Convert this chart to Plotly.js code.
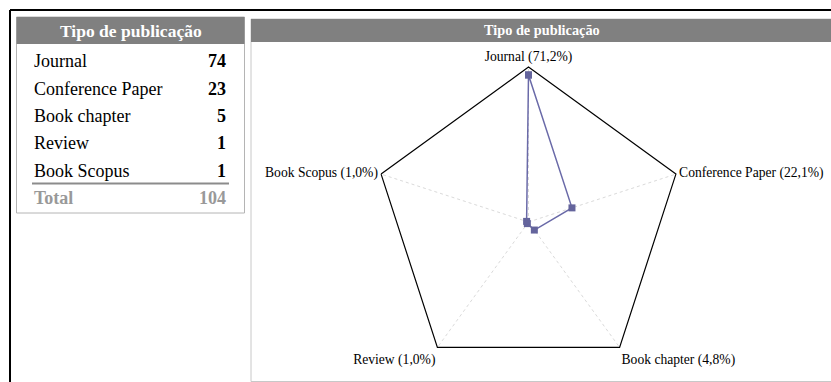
<!DOCTYPE html>
<html><head><meta charset="utf-8">
<script src="https://cdn.plot.ly/plotly-3.0.1.min.js"></script>
<style>body{margin:0;background:#fff}#chart{width:831px;height:382px}</style>
</head><body><div id="chart"></div><script>
const panelTitle = 'Tipo de publicação';
const categories = ['Journal', 'Conference Paper', 'Book chapter', 'Review', 'Book Scopus'];
const counts = [74, 23, 5, 1, 1];
const percents = ['71,2', '22,1', '4,8', '1,0', '1,0'];
const totalLabel = 'Total';
const totalValue = 104;

const W = 831, H = 382;
const px = x => x / W;
const py = y => 1 - y / H;
const serif = 'Liberation Serif, Times New Roman, serif';

const thetaLabels = categories.map((c, i) => c + ' (' + percents[i] + '%)');

const trace = {
  type: 'scatterpolar',
  r: counts.concat([counts[0]]),
  theta: thetaLabels.concat([thetaLabels[0]]),
  mode: 'lines+markers',
  line: {color: '#6a6aa8', width: 1.5},
  marker: {symbol: 'square', size: 7, color: '#64649c'},
  hoverinfo: 'skip',
  showlegend: false
};

const cx = 528.5, cy = 222, R = 155;

const shapes = [
  {type: 'line', xref: 'paper', yref: 'paper', x0: px(10), x1: px(900), y0: py(10), y1: py(10), line: {color: '#000', width: 2}},
  {type: 'line', xref: 'paper', yref: 'paper', x0: px(10), x1: px(10), y0: py(10), y1: py(500), line: {color: '#000', width: 2}},
  {type: 'rect', xref: 'paper', yref: 'paper', x0: px(16.5), x1: px(244.5), y0: py(17), y1: py(213), line: {color: '#b4b4b4', width: 1}, fillcolor: 'rgba(0,0,0,0)'},
  {type: 'rect', xref: 'paper', yref: 'paper', x0: px(16.5), x1: px(244.5), y0: py(17), y1: py(44), line: {width: 0}, fillcolor: '#808080'},
  {type: 'line', xref: 'paper', yref: 'paper', x0: px(32), x1: px(229), y0: py(183.5), y1: py(183.5), line: {color: '#8c8c8c', width: 2}},
  {type: 'rect', xref: 'paper', yref: 'paper', x0: px(251), x1: px(900), y0: py(19), y1: py(381.5), line: {color: '#c8c8c8', width: 1}, fillcolor: 'rgba(0,0,0,0)'},
  {type: 'rect', xref: 'paper', yref: 'paper', x0: px(251), x1: px(900), y0: py(19), y1: py(42), line: {width: 0}, fillcolor: '#808080'}
];

const annotations = [
  {xref: 'paper', yref: 'paper', x: px(131), y: py(31), xanchor: 'center', yanchor: 'middle', showarrow: false,
   text: '<b>' + panelTitle + '</b>', font: {family: serif, size: 17.5, color: '#fff'}},
  {xref: 'paper', yref: 'paper', x: px(541.5), y: py(30.5), xanchor: 'center', yanchor: 'middle', showarrow: false,
   text: '<b>' + panelTitle + '</b>', font: {family: serif, size: 14.3, color: '#fff'}}
];
const rowY0 = 61.5, rowStep = 27.3;
categories.forEach((c, i) => {
  const y = rowY0 + i * rowStep;
  annotations.push({xref: 'paper', yref: 'paper', x: px(32), y: py(y), xanchor: 'left', yanchor: 'middle', showarrow: false,
    text: c, font: {family: serif, size: 18, color: '#000'}});
  annotations.push({xref: 'paper', yref: 'paper', x: px(228), y: py(y), xanchor: 'right', yanchor: 'middle', showarrow: false,
    text: '<b>' + counts[i] + '</b>', font: {family: serif, size: 18, color: '#000'}});
});
annotations.push({xref: 'paper', yref: 'paper', x: px(32), y: py(198), xanchor: 'left', yanchor: 'middle', showarrow: false,
  text: '<b>' + totalLabel + '</b>', font: {family: serif, size: 18, color: '#999'}});
annotations.push({xref: 'paper', yref: 'paper', x: px(228), y: py(198), xanchor: 'right', yanchor: 'middle', showarrow: false,
  text: '<b>' + totalValue + '</b>', font: {family: serif, size: 18, color: '#999'}});

const layout = {
  width: W, height: H,
  margin: {l: 0, r: 0, t: 0, b: 0, pad: 0},
  paper_bgcolor: '#fff',
  showlegend: false,
  shapes: shapes,
  annotations: annotations,
  polar: {
    domain: {x: [px(cx - R), px(cx + R)], y: [py(cy + R), py(cy - R)]},
    gridshape: 'linear',
    bgcolor: 'rgba(0,0,0,0)',
    radialaxis: {visible: false, range: [0, 78], showgrid: false, showline: false, showticklabels: false, ticks: ''},
    angularaxis: {
      direction: 'clockwise', rotation: 90,
      showline: true, linecolor: '#000', linewidth: 1.2,
      showgrid: true, gridcolor: '#dadada', griddash: 'dot', gridwidth: 1,
      ticks: '',
      tickfont: {family: serif, size: 13.6, color: '#000'}
    }
  }
};

Plotly.newPlot('chart', [trace], layout, {staticPlot: true, displayModeBar: false});
</script></body></html>
